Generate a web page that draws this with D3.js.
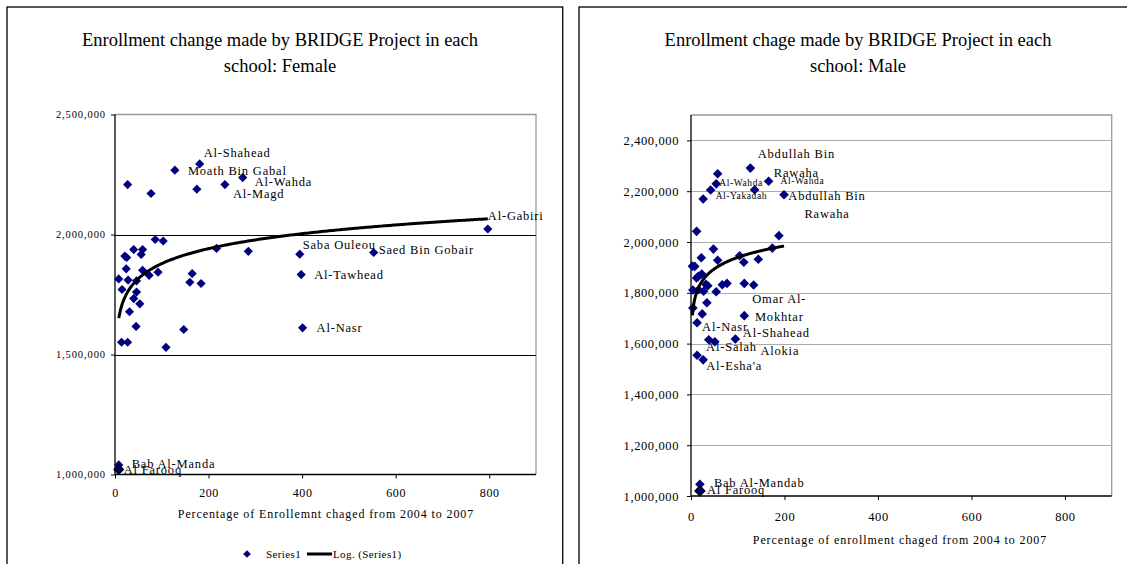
<!DOCTYPE html>
<html><head><meta charset="utf-8">
<script src="https://cdn.jsdelivr.net/npm/d3@7"></script>
<style>
html,body{margin:0;padding:0;background:#fff;}
svg text{font-family:"Liberation Serif","Times New Roman",serif;fill:#000;}
</style></head>
<body>
<svg id="c" width="1127" height="564"></svg>
<script>
// ---------- DATA ----------
const femaleX = [27,128,181,175,235,273,77,86,103,217,285,40,59,56,21,25,24,59,73,92,8,28,46,15,46,40,53,31,45,14,27,109,147,165,160,184,395,553,398,401,797,8,8];
const femaleY = [2208000,2268000,2294000,2189000,2208000,2237000,2171000,1979000,1973000,1942000,1930000,1937000,1937000,1917000,1910000,1904000,1857000,1851000,1830000,1843000,1815000,1810000,1807000,1771000,1760000,1733000,1711000,1678000,1617000,1551000,1551000,1530000,1604000,1837000,1801000,1796000,1918000,1925000,1833000,1611000,2023000,1040000,1021000];
const femaleLabels = ["","Moath Bin Gabal","Al-Shahead","","Al-Magd","Al-Wahda","","","","","","","","","","","","","","","","","","","","","","","","","","","","","","","Saba Ouleou","Saed Bin Gobair","Al-Tawhead","Al-Nasr","Al-Gabiri","Bab Al-Manda","Al Farooq"];
// Log trendline y = a*ln(x) + b, coefficients
const femaleTrend = {a: 89900, b: 1464700};

const maleX = [127,57,54,42,26,136,166,199,12,188,174,48,22,57,104,113,144,3,8,23,12,16,32,36,4,16,27,54,67,77,114,134,34,4,24,114,13,38,51,95,13,26,19,19];
const maleY = [2291000,2269000,2229000,2205000,2169000,2206000,2239000,2186000,2042000,2025000,1976000,1972000,1938000,1928000,1946000,1920000,1932000,1905000,1904000,1874000,1858000,1865000,1833000,1828000,1811000,1812000,1806000,1804000,1832000,1837000,1837000,1831000,1761000,1740000,1717000,1710000,1682000,1615000,1607000,1618000,1554000,1536000,1046000,1020000];
const maleLabels = ["Abdullah Bin|Rawaha","","Al-Wahda","Al-Yakadah","","","Al-Wahda","Abdullah Bin|Rawaha","","","","","","","","","","","","","","","","","","","","","","","","","","","","Omar Al-|Mokhtar","Al-Nasr","","Al-Shahead","Alokia","Al-Salah","Al-Esha'a","Bab Al-Mandab","Al Farooq"];
const maleTrend = {a: 65000, b: 1640000};

const xTicks = [0,200,400,600,800];
const femaleYTicks = [1000000,1500000,2000000,2500000];
const maleYTicks = [1000000,1200000,1400000,1600000,1800000,2000000,2200000,2400000];

const femaleTitle = ["Enrollment change made by BRIDGE Project in each","school: Female"];
const maleTitle = ["Enrollment chage made by BRIDGE Project in each","school: Male"];
const femaleXTitle = "Percentage of Enrollemnt chaged from 2004 to 2007";
const maleXTitle = "Percentage of enrollment chaged from 2004 to 2007";
const legendLabels = ["Series1","Log. (Series1)"];

// label placement offsets (px) keyed by index
const femaleLabelPos = {1:[13,1],2:[4,-11],4:[8,9],5:[12,4],36:[3,-9],37:[5,-3],38:[13,0],39:[14,0],40:[0,-13],41:[13,-1],42:[5,1]};
const maleLabelPos = {0:[46,-14,"c"],2:[3,-1,"s"],3:[5,6,"s"],6:[12,0,"s"],7:[43,1,"c"],35:[35,-17,"c"],36:[5,4],38:[28,-9],39:[25,12],40:[9,-8],41:[3,6],42:[14,-1],43:[7,-1]};

// ---------- DRAW ----------
const svg = d3.select("#c");
const NAVY = "#000080";
const diamond = { draw(ctx, size){ const r = Math.sqrt(size/2); ctx.moveTo(0,-r); ctx.lineTo(r,0); ctx.lineTo(0,r); ctx.lineTo(-r,0); ctx.closePath(); } };

function chart(o){
  const g = svg.append("g");
  g.append("rect").attr("x",o.box[0]).attr("y",o.box[1]).attr("width",o.box[2]).attr("height",o.box[3])
    .attr("fill","none").attr("stroke","#000").attr("stroke-width",1.3);
  const x = d3.scaleLinear().domain([0,900]).range([o.px0,o.px1]);
  const y = d3.scaleLinear().domain([1000000,2500000]).range([o.py1,o.py0]);
  g.append("path").attr("d",`M${o.px0},${o.py0}H${o.px1}V${o.py1}`).attr("fill","none").attr("stroke","#999").attr("stroke-width",1.3);
  g.selectAll(".grid").data(o.yTicks.filter(v=>v>1000000 && v<2500000)).enter().append("line")
    .attr("x1",o.px0).attr("x2",o.px1).attr("y1",d=>Math.round(y(d))+0.5).attr("y2",d=>Math.round(y(d))+0.5)
    .attr("stroke",o.gridColor).attr("stroke-width",1);
  const ya = g.append("g").attr("transform",`translate(${o.px0},0)`)
    .call(d3.axisLeft(y).tickValues(o.yTicks).tickFormat(d3.format(",")).tickSize(4).tickPadding(o.yPad));
  ya.select(".domain").remove();
  ya.selectAll("text").style("font-size",o.yFont+"px").style("letter-spacing",o.ySpacing+"px");
  ya.selectAll("line").attr("stroke","#000");
  const xa = g.append("g").attr("transform",`translate(0,${o.py1})`)
    .call(d3.axisBottom(x).tickValues(xTicks).tickFormat(d3.format("d")).tickSize(4).tickPadding(o.xPad));
  xa.select(".domain").remove();
  xa.selectAll("text").style("font-size",o.xFont+"px").style("letter-spacing","0.6px");
  xa.selectAll("line").attr("stroke","#000");
  g.append("line").attr("x1",o.px0).attr("x2",o.px0).attr("y1",o.py0).attr("y2",o.py1).attr("stroke","#000").attr("stroke-width",1.3);
  g.append("line").attr("x1",o.px0).attr("x2",o.px1).attr("y1",o.py1).attr("y2",o.py1).attr("stroke","#000").attr("stroke-width",1.3);
  o.title.forEach((t,i)=>g.append("text").attr("x",o.tx).attr("y",o.ty+i*26).attr("text-anchor","middle")
    .style("font-size","18.5px").text(t));
  g.append("text").attr("x",o.axx).attr("y",o.axy).attr("text-anchor","middle").style("font-size","12px")
    .style("letter-spacing","0.9px").text(o.xTitle);
  const ext = d3.extent(o.xs.filter(v=>v>0));
  const pts = d3.range(0,201).map(i=>{const xv=ext[0]+(ext[1]-ext[0])*i/200; return [xv, o.trend.a*Math.log(xv)+o.trend.b];});
  const sym = d3.symbol().type(diamond).size(o.dsize);
  o.xs.forEach((xv,i)=>{
    g.append("path").attr("d",sym).attr("transform",`translate(${x(xv)},${y(o.ys[i])})`)
      .attr("fill",NAVY).attr("stroke", o.outlined.includes(i)?"#000":"none").attr("stroke-width",1.5);
  });
  g.append("path").datum(pts).attr("d",d3.line().x(d=>x(d[0])).y(d=>y(d[1])))
    .attr("fill","none").attr("stroke","#000").attr("stroke-width",3);
  o.labels.forEach((lab,i)=>{
    if(!lab) return;
    const p = o.pos[i] || [8,0];
    const lines = lab.split("|");
    const small = p[2]==="s";
    const center = p[2]==="c";
    const t = g.append("text").attr("x",x(o.xs[i])+p[0]).attr("y",y(o.ys[i])+p[1])
      .attr("text-anchor",center?"middle":"start").attr("dominant-baseline","central")
      .style("font-size",(small?9.5:12.5)+"px").style("letter-spacing",(small?0.6:0.8)+"px");
    lines.forEach((l,k)=>t.append("tspan").attr("x",x(o.xs[i])+p[0]).attr("dy",k?"18.5px":0).text(l));
  });
  return g;
}

chart({box:[7,7,555.7,600], px0:115, px1:536, py0:114.5, py1:474.5, yTicks:femaleYTicks, gridColor:"#000",
  yFont:10.5, ySpacing:0.9, yPad:5, xFont:12, xPad:10, title:femaleTitle, tx:280, ty:46, xTitle:femaleXTitle, axx:326, axy:518,
  xs:femaleX, ys:femaleY, labels:femaleLabels, pos:femaleLabelPos, outlined:[42], dsize:42, trend:femaleTrend});
chart({box:[579,7,560,600], px0:691, px1:1111.7, py0:115, py1:496, yTicks:maleYTicks, gridColor:"#aaa",
  yFont:12.5, ySpacing:0.6, yPad:8, xFont:12.5, xPad:12, title:maleTitle, tx:858, ty:46, xTitle:maleXTitle, axx:900, axy:544,
  xs:maleX, ys:maleY, labels:maleLabels, pos:maleLabelPos, outlined:[43], dsize:46, trend:maleTrend});

const lg = svg.append("g");
lg.append("path").attr("d",d3.symbol().type(diamond).size(30)).attr("transform","translate(247,554)").attr("fill",NAVY);
lg.append("text").attr("x",266).attr("y",554).attr("dominant-baseline","central").style("font-size","11px").style("letter-spacing","0.4px").text(legendLabels[0]);
lg.append("line").attr("x1",307).attr("x2",332).attr("y1",554).attr("y2",554).attr("stroke","#000").attr("stroke-width",3);
lg.append("text").attr("x",333).attr("y",554).attr("dominant-baseline","central").style("font-size","11px").style("letter-spacing","0.4px").text(legendLabels[1]);
</script>
</body></html>
